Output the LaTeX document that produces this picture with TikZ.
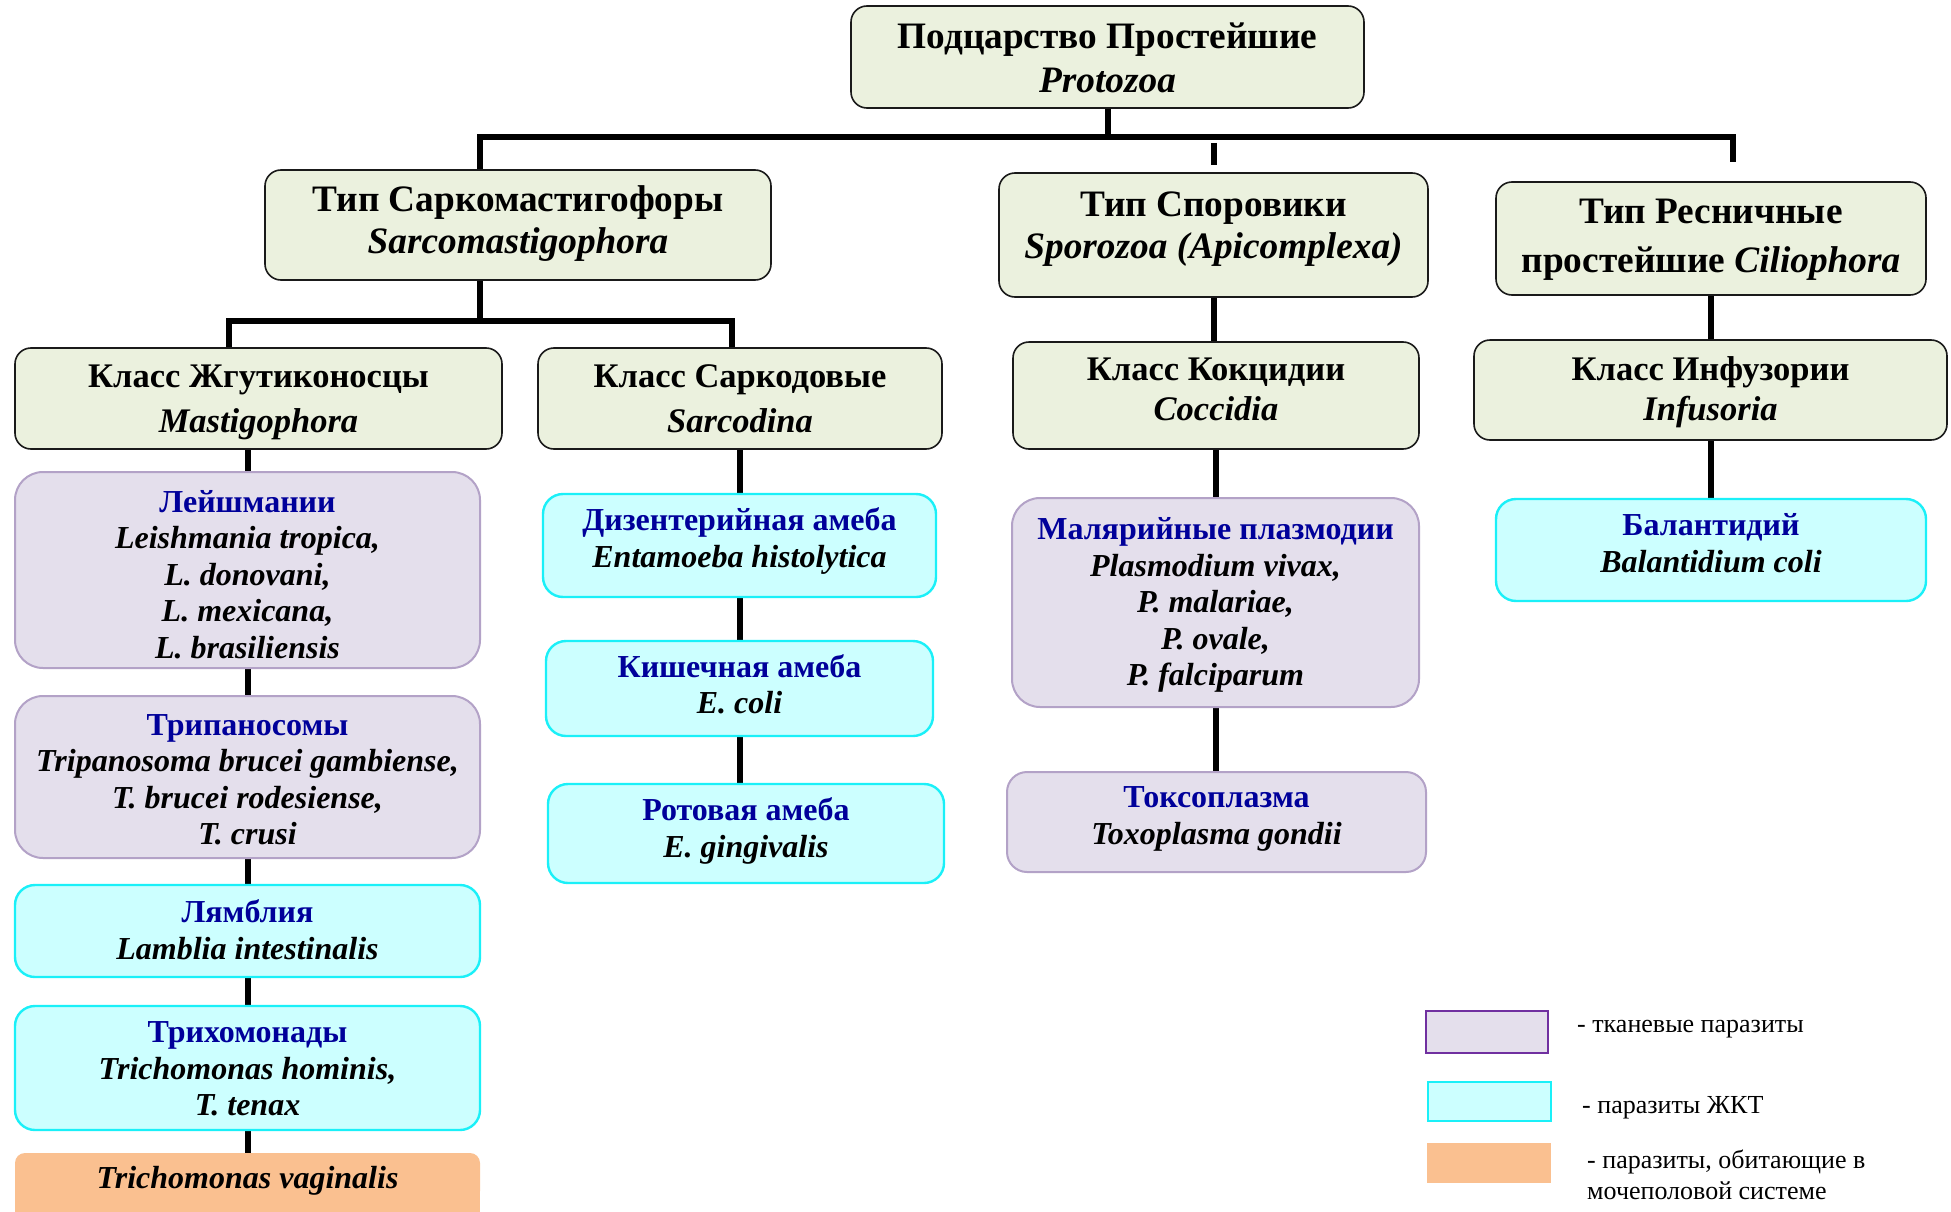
\documentclass[tikz,border=0pt]{standalone}
\usepackage{fontspec}
\setmainfont{Liberation Serif}
\usetikzlibrary{backgrounds}
\definecolor{gfill}{HTML}{EBF1DE}
\definecolor{gdraw}{HTML}{1A1A1A}
\definecolor{pfill}{HTML}{E4DFEC}
\definecolor{pdraw}{HTML}{B3A2C7}
\definecolor{cfill}{HTML}{CCFFFF}
\definecolor{cdraw}{HTML}{1AF0F8}
\definecolor{ofill}{HTML}{FAC090}
\definecolor{navy}{HTML}{00009A}
\definecolor{legpur}{HTML}{7030A0}
\newcommand\sptitle[1]{\textcolor{navy}{\textbf{#1}}}
\newcommand\latn[1]{\textbf{\textit{#1}}}
\begin{document}
\begin{tikzpicture}[x=1pt,y=-1pt,
  conn/.style={line width=6pt,black,line join=miter},
  greenbox/.style={draw=gdraw,line width=1.6pt,fill=gfill,rounded corners=16pt,inner sep=0pt},
  purplebox/.style={draw=pdraw,line width=2pt,fill=pfill,rounded corners=28pt,inner sep=0pt},
  cyanbox/.style={draw=cdraw,line width=2.4pt,fill=cfill,rounded corners=20pt,inner sep=0pt},
  orangebox/.style={fill=ofill,rounded corners=10pt,inner sep=0pt},
  typetext/.style={align=center,inner sep=0pt,font=\fontsize{37.3}{44}\selectfont\bfseries},
  classtext/.style={align=center,inner sep=0pt,font=\fontsize{34.5}{45}\selectfont\bfseries},
  classtextb/.style={align=center,inner sep=0pt,font=\fontsize{34.5}{40}\selectfont\bfseries},
  sptext/.style={align=center,inner sep=0pt,font=\fontsize{32}{36.5}\selectfont},
  legrect/.style={inner sep=0pt},
  legtext/.style={anchor=west,align=left,inner sep=0pt,font=\fontsize{26}{31.5}\selectfont}
]
\useasboundingbox (0,0) rectangle (1951,1212);

% level 1
\node[greenbox,minimum width=513,minimum height=102] (root) at (1107.5,57) {};
\node[typetext] (rootT) at (1107.5,57.5) {Подцарство Простейшие\\\latn{Protozoa}};
% level 2
\node[greenbox,minimum width=506,minimum height=110] (sarco) at (518,225) {};
\node[typetext,font=\fontsize{37.3}{42}\selectfont\bfseries] (sarcoT) at (518,224) {Тип Саркомастигофоры\\\latn{Sarcomastigophora}};
\node[greenbox,minimum width=429,minimum height=124] (sporo) at (1213.5,235) {};
\node[typetext,font=\fontsize{37.3}{42}\selectfont\bfseries] (sporoT) at (1213.5,229.5) {Тип Споровики\\\latn{Sporozoa (Apicomplexa)}};
\node[greenbox,minimum width=430,minimum height=113] (cilio) at (1711,238.5) {};
\node[typetext,font=\fontsize{37.3}{49}\selectfont\bfseries] (cilioT) at (1711,239.5) {Тип Ресничные\\простейшие \latn{Ciliophora}};
% level 3
\node[greenbox,minimum width=487,minimum height=101] (mastig) at (258.5,398.5) {};
\node[classtext] (mastigT) at (258.5,402) {Класс Жгутиконосцы\\\latn{Mastigophora}};
\node[greenbox,minimum width=404,minimum height=101] (sarcod) at (740,398.5) {};
\node[classtext] (sarcodT) at (740,398.5) {Класс Саркодовые\\\latn{Sarcodina}};
\node[greenbox,minimum width=406,minimum height=107] (cocc) at (1216,395.5) {};
\node[classtextb] (coccT) at (1216,389.5) {Класс Кокцидии\\\latn{Coccidia}};
\node[greenbox,minimum width=473,minimum height=100] (infus) at (1710.5,390) {};
\node[classtextb] (infusT) at (1710.5,392) {Класс Инфузории\\\latn{Infusoria}};

% left column
\node[purplebox,minimum width=465,minimum height=196] (leish) at (247.5,570) {};
\node[sptext] (leishT) at (247.5,574.5) {\sptitle{Лейшмании}\\\latn{Leishmania tropica,}\\\latn{L. donovani,}\\\latn{L. mexicana,}\\\latn{L. brasiliensis}};
\node[purplebox,minimum width=465,minimum height=162] (tryp) at (247.5,777) {};
\node[sptext] (trypT) at (247.5,779.5) {\sptitle{Трипаносомы}\\\latn{Tripanosoma brucei gambiense,}\\\latn{T. brucei rodesiense,}\\\latn{T. crusi}};
\node[cyanbox,minimum width=465,minimum height=92] (lamb) at (247.5,931) {};
\node[sptext] (lambT) at (247.5,929.5) {\sptitle{Лямблия}\\\latn{Lamblia intestinalis}};
\node[cyanbox,minimum width=465,minimum height=124] (trich) at (247.5,1068) {};
\node[sptext] (trichT) at (247.5,1069) {\sptitle{Трихомонады}\\\latn{Trichomonas hominis,}\\\latn{T. tenax}};
\node[orangebox,minimum width=465,minimum height=48] (vag) at (247.5,1177) {};
\node[sptext] (vagT) at (247.5,1180.5) {\latn{Trichomonas vaginalis}};

% Sarcodina column
\node[cyanbox,minimum width=393,minimum height=103] (dys) at (739.5,545.5) {};
\node[sptext] (dysT) at (739.5,541) {\sptitle{Дизентерийная амеба}\\\latn{Entamoeba histolytica}};
\node[cyanbox,minimum width=387,minimum height=95] (intest) at (739.5,688.5) {};
\node[sptext] (intestT) at (739.5,684.5) {\sptitle{Кишечная амеба}\\\latn{E. coli}};
\node[cyanbox,minimum width=396,minimum height=99] (oral) at (746,833.5) {};
\node[sptext] (oralT) at (746,831) {\sptitle{Ротовая амеба}\\\latn{E. gingivalis}};

% Coccidia column
\node[purplebox,minimum width=407,minimum height=209] (malaria) at (1215.5,602.5) {};
\node[sptext] (malariaT) at (1215.5,605) {\sptitle{Малярийные плазмодии}\\\latn{Plasmodium vivax,}\\\latn{P. malariae,}\\\latn{P. ovale,}\\\latn{P. falciparum}};
\node[purplebox,minimum width=419,minimum height=100,rounded corners=20pt] (toxo) at (1216.5,822) {};
\node[sptext] (toxoT) at (1216.5,819) {\sptitle{Токсоплазма}\\\latn{Toxoplasma gondii}};

% Infusoria column
\node[cyanbox,minimum width=430,minimum height=102] (balant) at (1711,550) {};
\node[sptext] (balantT) at (1711,543) {\sptitle{Балантидий}\\\latn{Balantidium coli}};

% legend
\node[legrect,draw=legpur,line width=2.5pt,fill=pfill,minimum width=122,minimum height=42] (leg1) at (1487,1032) {};
\node[legrect,draw=cdraw,line width=2.5pt,fill=cfill,minimum width=123,minimum height=39] (leg2) at (1489.5,1101.5) {};
\node[legrect,fill=ofill,minimum width=124,minimum height=40] (leg3) at (1489,1163) {};
\node[legtext] (legt1) at (1577,1029) {- тканевые паразиты};
\node[legtext] (legt2) at (1582,1108) {- паразиты ЖКТ};
\node[legtext] (legt3) at (1587,1175) {- паразиты, обитающие в\\мочеполовой системе};

% connectors
\coordinate (barL) at (480,137);
\coordinate (barR) at (1733,137);
\coordinate (cilEnd) at (1733,162);
\coordinate (sbL) at (229,321);
\coordinate (sbR) at (732,321);
\begin{scope}[on background layer]
\fill[white] (0,0) rectangle (1951,1212);
\fill[ofill] ([yshift=14pt]vag.south west) rectangle ([yshift=-40pt]vag.south east);
\draw[conn] (root.south) -- (root.south |- barL);
\draw[conn] (barL |- sarco.north) -- (barL) -- (barR) -- (cilEnd);
\draw[conn,shorten <=6pt,shorten >=7pt] (sporo.north |- barL) -- (sporo.north);
\draw[conn] (barL |- sarco.south) -- (barL |- sbL);
\draw[conn] (sbL |- mastig.north) -- (sbL) -- (sbR) -- (sbR |- sarcod.north);
\draw[conn] (leish.north |- mastig.south) -- (leish.north);
\draw[conn] (leish.south) -- (tryp.north);
\draw[conn] (tryp.south) -- (lamb.north);
\draw[conn] (lamb.south) -- (trich.north);
\draw[conn] (trich.south) -- (vag.north);
\draw[conn] (sarcod.south) -- (sarcod.south |- dys.north);
\draw[conn] (dys.south) -- (intest.north);
\draw[conn] (intest.south) -- (intest.south |- oral.north);
\draw[conn] (sporo.south) -- (sporo.south |- cocc.north);
\draw[conn] (cocc.south) -- (cocc.south |- malaria.north);
\draw[conn] (malaria.south) -- (malaria.south |- toxo.north);
\draw[conn] (cilio.south) -- (cilio.south |- infus.north);
\draw[conn] (infus.south) -- (infus.south |- balant.north);
\end{scope}
\end{tikzpicture}
\end{document}
